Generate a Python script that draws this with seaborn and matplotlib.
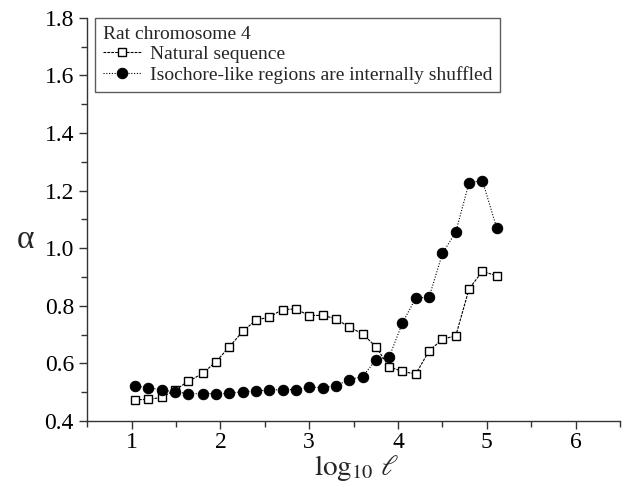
import matplotlib
matplotlib.use("Agg")
import matplotlib.pyplot as plt
from matplotlib.ticker import MultipleLocator
import seaborn as sns
import numpy as np

log_l = [1.04, 1.19, 1.34, 1.49, 1.64, 1.80, 1.95, 2.10, 2.25, 2.40, 2.55, 2.70, 2.85, 3.00,
         3.15, 3.30, 3.45, 3.60, 3.75, 3.90, 4.05, 4.20, 4.35, 4.50, 4.65, 4.80, 4.95, 5.11]
natural = [0.474, 0.475, 0.482, 0.508, 0.538, 0.565, 0.606, 0.657, 0.711, 0.750, 0.761, 0.787,
           0.789, 0.766, 0.767, 0.755, 0.726, 0.703, 0.658, 0.588, 0.572, 0.563, 0.644, 0.684,
           0.696, 0.859, 0.920, 0.904]
shuffled = [0.521, 0.516, 0.508, 0.501, 0.495, 0.495, 0.495, 0.496, 0.502, 0.504, 0.508, 0.509,
            0.509, 0.518, 0.516, 0.522, 0.544, 0.554, 0.612, 0.622, 0.741, 0.827, 0.830, 0.982,
            1.056, 1.228, 1.234, 1.071]

legend_title = "Rat chromosome 4"
label_natural = "Natural sequence"
label_shuffled = "Isochore-like regions are internally shuffled"

sns.set_theme(style="ticks")
plt.rcParams['font.family'] = ['Liberation Serif', 'DejaVu Serif']
plt.rcParams['mathtext.fontset'] = 'stix'

fig = plt.figure(figsize=(6.27, 4.87), dpi=100)
ax = fig.add_axes([0.139, 0.1355, 0.85, 0.828])

sns.lineplot(x=log_l, y=natural, ax=ax, color='black', linewidth=0.8,
             linestyle=(0, (2.5, 1)), marker='s', markersize=6, markerfacecolor='white',
             markeredgecolor='black', markeredgewidth=1.0, label=label_natural)
sns.lineplot(x=log_l, y=shuffled, ax=ax, color='black', linewidth=0.8,
             linestyle=(0, (1, 1.5)), marker='o', markersize=7.5, markerfacecolor='black',
             markeredgecolor='black', label=label_shuffled)

ax.set_xlim(0.5, 6.5)
ax.set_ylim(0.4, 1.8)
ax.xaxis.set_major_locator(MultipleLocator(1))
ax.xaxis.set_minor_locator(MultipleLocator(0.5))
ax.yaxis.set_major_locator(MultipleLocator(0.2))
ax.yaxis.set_minor_locator(MultipleLocator(0.1))
ax.set_yticklabels([f"{v:.1f}" for v in ax.get_yticks()])
for s in ['top', 'right']:
    ax.spines[s].set_visible(False)
for s in ['left', 'bottom']:
    ax.spines[s].set_color('#333333')
    ax.spines[s].set_linewidth(1.0)
ax.tick_params(which='major', direction='out', length=6, width=1, colors='#333333',
               labelsize=17, labelcolor='black')
ax.tick_params(axis='x', which='major', pad=2)
ax.tick_params(which='minor', direction='out', length=4, width=1, colors='#333333')

ax.set_xlabel(r'$\mathrm{log}_{10}\ \ell$', fontsize=21, labelpad=0)
ax.xaxis.set_label_coords(0.505, -0.08, transform=ax.transAxes)
ax.xaxis.label.set_verticalalignment('top')
ax.set_ylabel('α', fontsize=24, rotation=0, va='center')
ax.yaxis.set_label_coords(-0.115, 0.45)

leg = ax.legend(title=legend_title, loc='upper left', bbox_to_anchor=(0.015, 1.0),
                frameon=True, fancybox=False, fontsize=14, title_fontsize=14,
                alignment='left', handlelength=2.0, handletextpad=0.4,
                borderpad=0.4, labelspacing=0.15, borderaxespad=0.0)
leg.get_frame().set_edgecolor('#333333')
leg.get_frame().set_linewidth(1.0)

fig.savefig('out.png', dpi=100)
